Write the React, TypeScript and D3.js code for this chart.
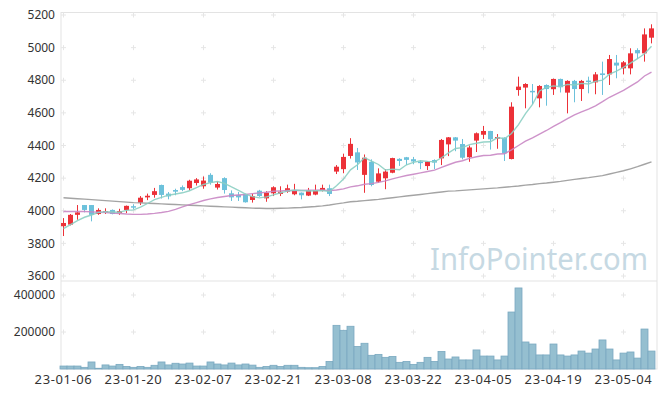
import React, { useEffect, useRef } from 'react';
import * as d3 from 'd3';

// trading days shown on the chart (yy-mm-dd)
const dates = [
  '23-01-06', '23-01-09', '23-01-10', '23-01-11', '23-01-12', '23-01-13', '23-01-16', '23-01-17', '23-01-18', '23-01-19',
  '23-01-20', '23-01-25', '23-01-26', '23-01-27', '23-01-30', '23-01-31', '23-02-01', '23-02-02', '23-02-03', '23-02-06',
  '23-02-07', '23-02-08', '23-02-09', '23-02-10', '23-02-13', '23-02-14', '23-02-15', '23-02-16', '23-02-17', '23-02-20',
  '23-02-21', '23-02-22', '23-02-23', '23-02-24', '23-02-27', '23-02-28', '23-03-02', '23-03-03', '23-03-06', '23-03-07',
  '23-03-08', '23-03-09', '23-03-10', '23-03-13', '23-03-14', '23-03-15', '23-03-16', '23-03-17', '23-03-20', '23-03-21',
  '23-03-22', '23-03-23', '23-03-24', '23-03-27', '23-03-28', '23-03-29', '23-03-30', '23-03-31', '23-04-03', '23-04-04',
  '23-04-05', '23-04-06', '23-04-07', '23-04-10', '23-04-11', '23-04-12', '23-04-13', '23-04-14', '23-04-17', '23-04-18',
  '23-04-19', '23-04-20', '23-04-21', '23-04-24', '23-04-25', '23-04-26', '23-04-27', '23-04-28', '23-05-02', '23-05-03',
  '23-05-04', '23-05-08', '23-05-09', '23-05-10', '23-05-11',
];

const opens = [
  3905, 3915, 3975, 4035, 4035, 3980, 3990, 4005, 3985, 4005,
  4028, 4050, 4082, 4097, 4158, 4105, 4127, 4145, 4138, 4170,
  4150, 4220, 4142, 4200, 4107, 4097, 4103, 4066, 4123, 4076,
  4107, 4103, 4117, 4101, 4111, 4093, 4099, 4123, 4138, 4240,
  4255, 4336, 4358, 4220, 4300, 4178, 4199, 4233, 4318, 4328,
  4316, 4301, 4274, 4311, 4321, 4407, 4450, 4409, 4328, 4430,
  4466, 4489, 4442, 4448, 4317, 4740, 4755, 4735, 4689, 4771,
  4745, 4808, 4724, 4796, 4746, 4798, 4787, 4842, 4836, 4908,
  4873, 4873, 4985, 4965, 5061,
];
const highs = [
  3955, 3980, 4035, 4035, 4035, 4015, 4015, 4008, 4012, 4032,
  4040, 4090, 4105, 4140, 4160, 4115, 4135, 4155, 4190, 4200,
  4210, 4230, 4180, 4205, 4125, 4115, 4105, 4105, 4128, 4120,
  4150, 4150, 4160, 4165, 4112, 4140, 4160, 4160, 4160, 4280,
  4350, 4445, 4385, 4345, 4315, 4260, 4255, 4325, 4322, 4330,
  4330, 4310, 4305, 4315, 4440, 4452, 4452, 4440, 4400, 4480,
  4520, 4490, 4470, 4450, 4665, 4822, 4782, 4777, 4770, 4775,
  4810, 4810, 4800, 4802, 4802, 4822, 4850, 4914, 4955, 4955,
  4918, 4996, 4996, 5118, 5143,
];
const lows = [
  3845, 3910, 3945, 3990, 3935, 3975, 3980, 3978, 3975, 3985,
  4010, 4035, 4065, 4080, 4075, 4070, 4095, 4120, 4125, 4155,
  4135, 4160, 4130, 4105, 4060, 4060, 4050, 4050, 4085, 4055,
  4090, 4090, 4110, 4095, 4070, 4090, 4095, 4118, 4090, 4225,
  4230, 4320, 4250, 4110, 4150, 4170, 4132, 4230, 4275, 4280,
  4285, 4255, 4250, 4255, 4280, 4335, 4365, 4315, 4300, 4360,
  4440, 4375, 4380, 4305, 4315, 4705, 4628, 4652, 4634, 4644,
  4710, 4725, 4597, 4665, 4673, 4720, 4714, 4710, 4771, 4812,
  4836, 4836, 4930, 4914, 5026,
];
const closes = [
  3925, 3975, 3990, 4005, 3975, 4005, 3998, 3980, 3998, 4030,
  4022, 4080, 4092, 4120, 4097, 4088, 4117, 4128, 4184, 4192,
  4185, 4172, 4164, 4127, 4082, 4082, 4052, 4090, 4090, 4111,
  4144, 4117, 4138, 4127, 4095, 4127, 4127, 4140, 4103, 4270,
  4330, 4410, 4296, 4325, 4158, 4229, 4240, 4323, 4305, 4312,
  4302, 4292, 4301, 4295, 4434, 4450, 4430, 4325, 4388, 4475,
  4489, 4438, 4452, 4352, 4638, 4761, 4777, 4730, 4765, 4746,
  4808, 4757, 4796, 4746, 4796, 4792, 4836, 4832, 4930, 4890,
  4910, 4965, 4965, 5081, 5118,
];
const volumes = [
  16000, 16000, 16000, 9000, 38000, 4000, 22000, 16000, 25000, 14000,
  9000, 14000, 9000, 20000, 38000, 22000, 31000, 27000, 32000, 16000,
  16000, 38000, 27000, 22000, 32000, 22000, 27000, 21000, 9000, 14000,
  20000, 14000, 20000, 20000, 9000, 7000, 7000, 14000, 41000, 236000,
  209000, 231000, 122000, 139000, 74000, 79000, 63000, 68000, 36000, 41000,
  25000, 36000, 63000, 41000, 95000, 54000, 65000, 49000, 49000, 103000,
  70000, 70000, 49000, 70000, 308000, 438000, 146000, 135000, 76000, 76000,
  135000, 76000, 70000, 76000, 97000, 86000, 108000, 157000, 108000, 49000,
  86000, 92000, 59000, 216000, 97000,
];
// moving averages for the first days need history not on the chart
const ma5Head = [3890, 3915, 3940, 3960];
const ma20Head = [
  3995, 3995, 3995, 3995, 3993, 3991, 3989, 3986, 3983, 3980,
  3978, 3978, 3980, 3984, 3989, 3996, 4008, 4024, 4038,
];
const ma60 = [
  4080, 4077, 4074, 4071, 4068, 4065, 4062, 4059, 4056, 4053,
  4050, 4048, 4046, 4044, 4042, 4040, 4038, 4036, 4034, 4032,
  4030, 4028, 4026, 4024, 4022, 4020, 4018, 4016, 4015, 4014,
  4014, 4015, 4016, 4018, 4020, 4023, 4026, 4030, 4035, 4042,
  4048, 4055, 4058, 4062, 4066, 4070, 4075, 4080, 4085, 4090,
  4095, 4100, 4105, 4110, 4115, 4120, 4122, 4125, 4128, 4131,
  4134, 4137, 4140, 4144, 4148, 4152, 4157, 4161, 4166, 4170,
  4175, 4180, 4186, 4192, 4198, 4203, 4209, 4215, 4225, 4235,
  4245, 4257, 4270, 4285, 4300,
];
const priceTicks = [3600, 3800, 4000, 4200, 4400, 4600, 4800, 5000, 5200];
const volumeTicks = [200000, 400000];

const UP = '#ec3138';
const DOWN = '#6cc1db';
const FONT = '"Noto Sans", "DejaVu Sans", sans-serif';

function CandleChart() {
  const svgRef = useRef<SVGSVGElement>(null);

  useEffect(() => {
    const width = 665;
    const height = 398;
    const frame = { left: 61, right: 657, top: 12.5, split: 281, bottom: 369 };

    const svg = d3.select(svgRef.current).attr('width', width).attr('height', height);
    svg.selectAll('*').remove();

    const idx = d3.range(dates.length);
    const x = d3.scaleBand<number>().domain(idx).range([60, 655]);
    const cx = (i: number) => (x(i) as number) + x.bandwidth() / 2;
    const yPrice = d3.scaleLinear().domain([3600, 5200]).range([276, 15]);
    const yVol = d3.scaleLinear().domain([0, 400000]).range([frame.bottom, 295]);

    const rolling = (n: number, head: number[]) =>
      closes.map((c, i) => (i < n - 1 ? head[i] : (d3.mean(closes.slice(i - n + 1, i + 1)) as number)));
    const ma5 = rolling(5, ma5Head);
    const ma20 = rolling(20, ma20Head);

    // frame
    const frameG = svg.append('g').attr('stroke', '#e3e3e3').attr('fill', 'none');
    frameG.append('rect')
      .attr('x', frame.left).attr('y', frame.top)
      .attr('width', frame.right - frame.left).attr('height', frame.bottom - frame.top);
    frameG.append('line')
      .attr('x1', frame.left).attr('x2', frame.right)
      .attr('y1', frame.split).attr('y2', frame.split);

    // grid crosses
    const gridX = idx.filter((i) => i % 10 === 0);
    const crossPts: [number, number][] = [];
    gridX.forEach((i) => {
      priceTicks.forEach((t) => crossPts.push([cx(i), yPrice(t)]));
      volumeTicks.forEach((t) => crossPts.push([cx(i), yVol(t)]));
    });
    svg.append('g').attr('stroke', '#e6e6e6').attr('stroke-width', 1)
      .selectAll('path').data(crossPts).enter().append('path')
      .attr('d', (d) => `M${d[0] - 2.5},${d[1]}H${d[0] + 2.5}M${d[0]},${d[1] - 2.5}V${d[1] + 2.5}`);

    // watermark
    svg.append('text')
      .attr('x', 648).attr('y', 270)
      .attr('text-anchor', 'end')
      .attr('font-family', FONT)
      .attr('font-size', 31)
      .attr('fill', '#c6d9e3')
      .attr('textLength', 218)
      .attr('lengthAdjust', 'spacingAndGlyphs')
      .text('InfoPointer.com');

    // volume bars
    svg.append('g').selectAll('rect').data(idx).enter().append('rect')
      .attr('x', (i) => x(i) as number)
      .attr('y', (i) => yVol(volumes[i]))
      .attr('width', x.bandwidth())
      .attr('height', (i) => frame.bottom - yVol(volumes[i]))
      .attr('fill', '#95bfd0')
      .attr('stroke', '#7aa9c0')
      .attr('stroke-width', 0.8);

    // candles
    const candles = svg.append('g').selectAll('g').data(idx).enter().append('g')
      .attr('fill', (i) => (closes[i] >= opens[i] ? UP : DOWN))
      .attr('stroke', (i) => (closes[i] >= opens[i] ? UP : DOWN));
    candles.append('line')
      .attr('x1', (i) => cx(i)).attr('x2', (i) => cx(i))
      .attr('y1', (i) => yPrice(highs[i])).attr('y2', (i) => yPrice(lows[i]))
      .attr('stroke-width', 1);
    candles.append('rect')
      .attr('x', (i) => cx(i) - 2.5)
      .attr('width', 5)
      .attr('y', (i) => yPrice(Math.max(opens[i], closes[i])))
      .attr('height', (i) => Math.max(1.5, Math.abs(yPrice(opens[i]) - yPrice(closes[i]))))
      .attr('stroke', 'none');

    // moving averages
    const line = d3.line<number>().x((d, i) => cx(i)).y((d) => yPrice(d));
    [
      { data: ma60, color: '#9a9a9a' },
      { data: ma20, color: '#c987c4' },
      { data: ma5, color: '#8ccfc3' },
    ].forEach((s) => {
      svg.append('path')
        .attr('d', line(s.data))
        .attr('fill', 'none')
        .attr('stroke', s.color)
        .attr('stroke-width', 1.4)
        .attr('stroke-opacity', 0.9);
    });

    // axis labels
    const labels = svg.append('g').attr('font-family', FONT).attr('fill', '#333');
    labels.selectAll('.py').data(priceTicks).enter().append('text')
      .attr('x', 55).attr('y', (d) => yPrice(d))
      .attr('dy', '0.35em')
      .attr('text-anchor', 'end')
      .attr('font-size', 12)
      .text((d) => d);
    labels.selectAll('.vy').data(volumeTicks).enter().append('text')
      .attr('x', 55).attr('y', (d) => yVol(d))
      .attr('dy', '0.35em')
      .attr('text-anchor', 'end')
      .attr('font-size', 12)
      .text((d) => d);
    labels.selectAll('.xl').data(gridX).enter().append('text')
      .attr('x', (i) => cx(i)).attr('y', 383.5)
      .attr('text-anchor', 'middle')
      .attr('font-size', 13)
      .attr('letter-spacing', 0.6)
      .text((i) => dates[i]);
  }, []);

  return <svg ref={svgRef} style={{ position: 'absolute', left: 0, top: 0, display: 'block' }} />;
}

export default function App() {
  return <CandleChart />;
}
